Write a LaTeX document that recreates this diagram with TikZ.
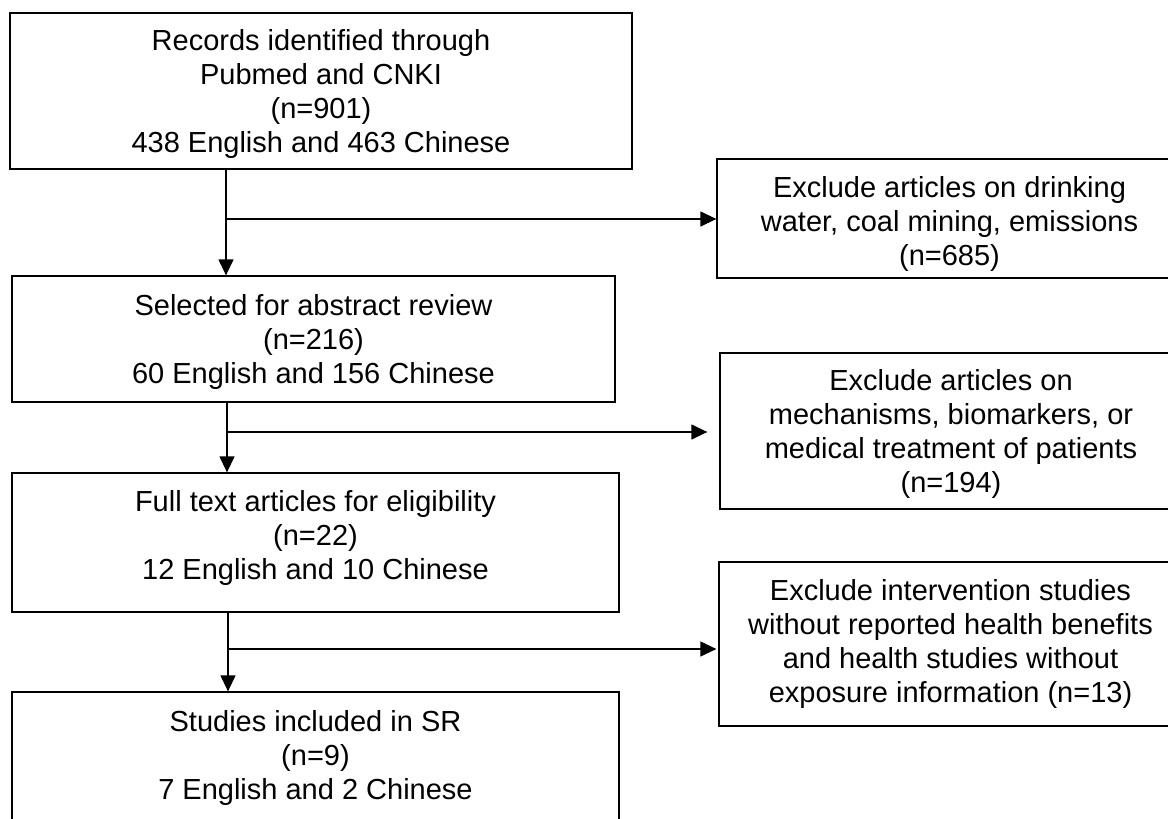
\documentclass[tikz,border=0pt]{standalone}
\usepackage{fontspec}
\setmainfont{Liberation Sans}
\usetikzlibrary{arrows.meta}
\begin{document}
\begin{tikzpicture}[x=1pt,y=-1pt,
  boxnode/.style={draw=black,line width=1.3pt,inner sep=0pt,rectangle},
  txt/.style={align=center,inner sep=0pt,font=\fontsize{29pt}{34pt}\selectfont},
  conn/.style={line width=1.3pt,-{Triangle[length=16pt,width=15pt]}}]
\useasboundingbox (0,0) rectangle (1168,819);
\clip (0,0) rectangle (1168,819);
% left column boxes
\node[boxnode,minimum width=622pt,minimum height=156pt] (b1) at (321,91) {};
\node[boxnode,minimum width=603pt,minimum height=126pt] (b2) at (313.5,339) {};
\node[boxnode,minimum width=607pt,minimum height=139pt] (b3) at (315.5,542.5) {};
\node[boxnode,minimum width=607pt,minimum height=138pt] (b4) at (315.5,761) {};
% right column boxes
\node[boxnode,minimum width=465pt,minimum height=119pt] (r1) at (949.5,218.5) {};
\node[boxnode,minimum width=462pt,minimum height=156pt] (r2) at (951,431) {};
\node[boxnode,minimum width=463pt,minimum height=164pt] (r3) at (950.5,644) {};
% texts
\node[txt] (t1) at (321,94) {Records identified through\\Pubmed and CNKI\\(n=901)\\438 English and 463 Chinese};
\node[txt] (t2) at (313.5,342) {Selected for abstract review\\(n=216)\\60 English and 156 Chinese};
\node[txt] (t3) at (315.5,538) {Full text articles for eligibility\\(n=22)\\12 English and 10 Chinese};
\node[txt] (t4) at (315.5,758) {Studies included in SR\\(n=9)\\7 English and 2 Chinese};
\node[txt] (u1) at (949.5,224) {Exclude articles on drinking\\water, coal mining, emissions\\(n=685)};
\node[txt] (u2) at (951,434) {Exclude articles on\\mechanisms, biomarkers, or\\medical treatment of patients\\(n=194)};
\node[txt] (u3) at (950.5,643.5) {Exclude intervention studies\\without reported health benefits\\and health studies without\\exposure information (n=13)};
% junctions
\coordinate (j1) at (226,219);
\coordinate (j2) at (227,432);
\coordinate (j3) at (228,649);
% connectors
\draw[conn] (b1.south -| j1) -- (b2.north -| j1);
\draw[conn] (j1) -- (j1 -| r1.west);
\draw[conn] (b2.south -| j2) -- (b3.north -| j2);
\draw[conn] (j2) -- ([xshift=-12pt]j2 -| r2.west);
\draw[conn] (b3.south -| j3) -- (b4.north -| j3);
\draw[conn] (j3) -- ([xshift=-2pt]j3 -| r3.west);
\end{tikzpicture}
\end{document}
